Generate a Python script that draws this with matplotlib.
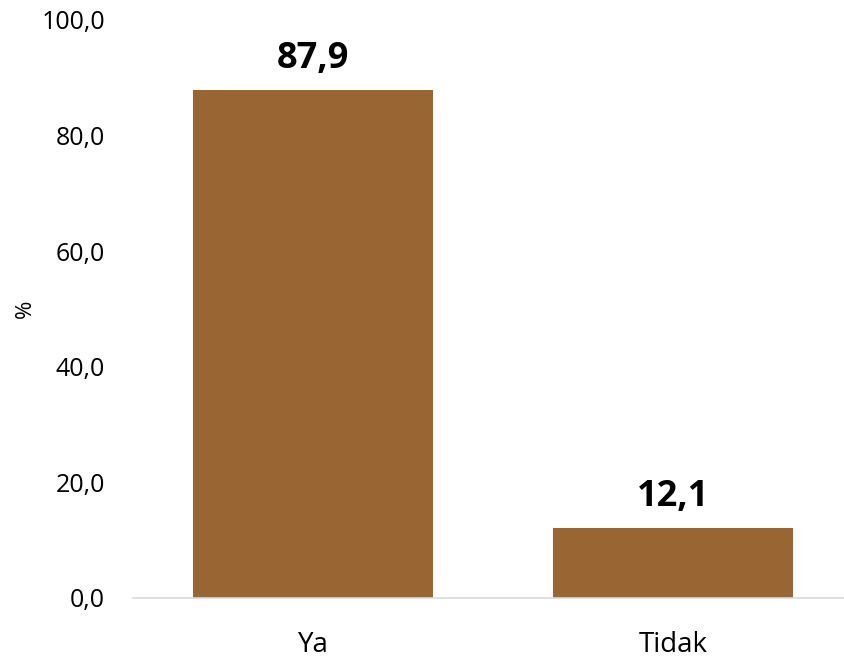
import numpy as np
import matplotlib.pyplot as plt

kategori = ["Ya", "Tidak"]
persen = [87.9, 12.1]
yticks = [0, 20, 40, 60, 80, 100]

plt.rcParams["font.family"] = ["Open Sans", "DejaVu Sans"]

fig = plt.figure(figsize=(8.45, 6.59), dpi=100)
ax = fig.add_axes([0.1574, 0.0926, 0.8426, 0.8771])

x = np.arange(len(kategori))
bars = ax.bar(x, persen, width=0.667, color="#996633")

for b, v in zip(bars, persen):
    ax.text(b.get_x() + b.get_width() / 2, v + 3.8, f"{v:.1f}".replace(".", ","),
            ha="center", va="baseline", fontsize=26, fontweight="bold", color="black")

ax.set_xlim(-0.5, 1.478)
ax.set_ylim(0, 100)
ax.set_yticks(yticks)
ax.set_yticklabels([f"{t:.1f}".replace(".", ",") for t in yticks], fontsize=18)
ax.set_xticks(x)
ax.set_xticklabels(kategori, fontsize=20)
ax.tick_params(axis="both", length=0)
ax.tick_params(axis="y", pad=20)
ax.tick_params(axis="x", pad=24)
ax.set_ylabel("%", fontsize=16, labelpad=4)

for s in ["top", "right", "left"]:
    ax.spines[s].set_visible(False)
ax.spines["bottom"].set_color("#d9d9d9")
ax.spines["bottom"].set_linewidth(1.2)

fig.savefig("out.png", dpi=100)
